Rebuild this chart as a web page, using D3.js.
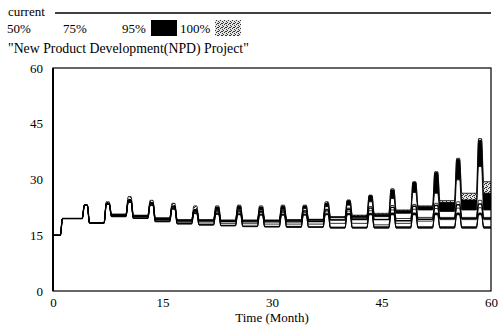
<!DOCTYPE html>
<html>
  <head>
    <meta charset="UTF-8">
    <style>
      body { margin: 0; background: #fff; }
      text { font-family: "Liberation Serif", "DejaVu Serif", serif; fill: #000; }
      .tick text { font-size: 13px; font-family: "Liberation Serif", "DejaVu Serif", serif; }
      .band-line { fill: none; stroke: #000; stroke-width: 0.8; }
      .current-line { fill: none; stroke: #000; stroke-width: 1.4; }
    </style>
    <script src="https://d3js.org/d3.v7.min.js"></script>
  </head>
  <body>
    <script>
      // sensitivity run: months of the 19 work pulses
      var peakMonths = [4.5, 7.5, 10.5, 13.5, 16.5, 19.5, 22.5, 25.5, 28.5, 31.5,
                        34.5, 37.5, 40.5, 43.5, 46.5, 49.5, 52.5, 55.5, 58.5];
      var startLevel = 15, rampFrom = 1.0, rampTo = 1.3;
      var xTicks = [0, 15, 30, 45, 60];
      var yTicks = [0, 15, 30, 45, 60];

      // plateau levels: [0] before first pulse, [k] after pulse k
      var baseCurrent = [19.5,18.3,20.4,20.0,19.3,18.8,18.8,18.7,18.6,18.6,18.6,18.7,19.1,19.2,19.2,18.9,19.3,19.5,19.5,19.5];
      var baseLo100 = [19.5,18.3,20.0,19.5,18.6,18.0,17.7,17.5,17.3,17.2,17.1,17.1,16.9,16.9,16.9,16.9,16.9,16.9,16.9,16.9];
      var baseLo95  = [19.5,18.3,20.0,19.5,18.7,18.1,17.8,17.6,17.4,17.3,17.2,17.2,17.0,17.0,17.0,17.0,17.0,17.0,17.0,17.0];
      var baseLo75  = [19.5,18.3,20.1,19.6,18.8,18.2,17.9,17.7,17.5,17.4,17.4,17.3,17.2,17.2,17.3,17.3,17.3,17.3,17.3,17.3];
      var baseLo50  = [19.5,18.3,20.2,19.8,19.0,18.5,18.3,18.2,18.1,18.0,18.0,18.0,18.2,18.2,17.8,18.2,18.8,19.2,19.2,19.2];
      var baseHi50  = [19.5,18.3,20.4,20.1,19.4,18.9,18.9,18.8,18.8,18.8,18.8,18.9,19.3,19.5,19.3,19.5,19.8,19.8,19.8,19.8];
      var baseHi75  = [19.5,18.3,20.5,20.2,19.5,19.0,19.0,18.9,18.9,18.9,19.0,19.1,19.8,19.8,20.0,20.9,21.8,21.4,21.8,21.8];
      var baseHi95  = [19.5,18.3,20.6,20.3,19.6,19.1,19.1,19.0,19.0,19.0,19.1,19.2,19.9,20.2,20.6,21.6,22.7,23.8,24.5,26.3];
      var baseHi100 = [19.5,18.3,20.7,20.4,19.7,19.2,19.2,19.1,19.1,19.1,19.2,19.3,20.0,20.4,20.9,21.8,22.9,24.3,26.3,29.4];

      // pulse tops
      var peakCurrent = [23.1,23.5,24.3,23.6,22.7,21.6,21.5,21.5,21.4,21.5,21.5,21.8,22.0,22.3,22.5,22.8,23.0,23.2,23.4];
      var peakLo100 = [23.1,23.3,23.8,23.0,22.0,20.8,20.6,20.5,20.4,20.4,20.4,20.5,20.5,20.5,20.5,20.5,20.5,20.5,20.5];
      var peakLo95  = [23.1,23.3,23.9,23.1,22.1,20.9,20.7,20.6,20.5,20.5,20.5,20.6,20.6,20.6,20.6,20.6,20.6,20.6,20.6];
      var peakLo75  = [23.1,23.4,24.0,23.2,22.3,21.1,20.9,20.8,20.7,20.7,20.7,20.8,20.9,20.9,21.0,21.0,21.0,21.0,21.0];
      var peakLo50  = [23.1,23.5,24.2,23.4,22.5,21.4,21.2,21.2,21.1,21.1,21.1,21.3,21.5,21.6,21.8,22.0,22.2,22.3,22.4];
      var peakHi50  = [23.1,23.5,24.3,23.6,22.7,21.7,21.6,21.6,21.5,21.6,21.7,22.0,22.3,22.7,23.0,23.3,23.6,24.0,24.4];
      var peakHi75  = [23.1,23.5,24.4,23.7,22.8,21.8,21.8,21.9,21.8,21.9,22.2,22.7,23.1,24.0,24.9,26.5,26.3,29.9,33.5];
      var peakHi95  = [23.1,23.7,24.6,23.8,22.9,21.9,22.6,22.8,22.6,22.8,22.9,23.6,24.3,25.6,27.2,29.2,31.8,35.3,40.5];
      var peakHi100 = [23.1,24.0,25.4,24.4,23.6,22.9,22.9,23.1,22.9,23.1,23.1,24.0,24.5,25.8,27.5,29.4,32.1,35.7,41.0];

      var width = 499, height = 327;
      var m = { left: 53, right: 491, top: 68, bottom: 291 };
      var pulse = [-0.5, -0.2, 0.2, 0.5];

      var x = d3.scaleLinear().domain([0, 60]).range([m.left, m.right]);
      var y = d3.scaleLinear().domain([0, 60]).range([m.bottom, m.top]);

      function series(base, peak) {
        var pts = [[0, startLevel], [rampFrom, startLevel], [rampTo, base[0]]];
        peakMonths.forEach(function(t, i) {
          pts.push([t + pulse[0], base[i]], [t + pulse[1], peak[i]],
                   [t + pulse[2], peak[i]], [t + pulse[3], base[i + 1]]);
        });
        pts.push([60, base[base.length - 1]]);
        return pts;
      }

      var svg = d3.select("body").append("svg")
        .attr("width", width)
        .attr("height", height);

      var defs = svg.append("defs");
      var pat = defs.append("pattern")
        .attr("id", "stipple")
        .attr("width", 4).attr("height", 4)
        .attr("patternUnits", "userSpaceOnUse");
      pat.append("rect").attr("width", 4).attr("height", 4).attr("fill", "#e4e4e4");
      [[0, 0], [2, 1], [1, 3], [3, 2], [2, 3]].forEach(function(p) {
        pat.append("rect").attr("x", p[0]).attr("y", p[1])
          .attr("width", 1).attr("height", 1).attr("fill", "#333");
      });

      var line = d3.line()
        .x(function(d) { return x(d[0]); })
        .y(function(d) { return y(d[1]); })
        .curve(d3.curveMonotoneX);

      var area = d3.area()
        .x(function(d) { return x(d[0]); })
        .y0(function(d) { return y(d[1]); })
        .y1(function(d) { return y(d[2]); })
        .curve(d3.curveMonotoneX);

      var bands = [
        { lo: series(baseLo100, peakLo100), hi: series(baseHi100, peakHi100), fill: "url(#stipple)" },
        { lo: series(baseLo95, peakLo95), hi: series(baseHi95, peakHi95), fill: "#000" },
        { lo: series(baseLo75, peakLo75), hi: series(baseHi75, peakHi75), fill: "#fff" },
        { lo: series(baseLo50, peakLo50), hi: series(baseHi50, peakHi50), fill: "#fff" }
      ];

      var plot = svg.append("g");
      bands.forEach(function(b) {
        var rows = b.lo.map(function(p, i) { return [p[0], p[1], b.hi[i][1]]; });
        plot.append("path").attr("d", area(rows)).attr("fill", b.fill);
      });
      bands.forEach(function(b) {
        plot.append("path").attr("class", "band-line").attr("d", line(b.lo));
        plot.append("path").attr("class", "band-line").attr("d", line(b.hi));
      });
      plot.append("path").attr("class", "current-line")
        .attr("d", line(series(baseCurrent, peakCurrent)));

      // frame
      svg.append("rect")
        .attr("x", m.left).attr("y", m.top)
        .attr("width", m.right - m.left).attr("height", m.bottom - m.top)
        .attr("fill", "none").attr("stroke", "#000").attr("stroke-width", 1.2);
      svg.append("line")
        .attr("x1", m.left).attr("x2", m.left).attr("y1", m.top).attr("y2", m.bottom)
        .attr("stroke", "#000").attr("stroke-width", 2);

      svg.append("g")
        .attr("transform", "translate(" + m.left + ",0)")
        .call(d3.axisLeft(y).tickValues(yTicks).tickSize(0).tickPadding(10))
        .call(function(g) { g.select(".domain").remove(); });

      svg.append("g")
        .attr("transform", "translate(0," + m.bottom + ")")
        .call(d3.axisBottom(x).tickValues(xTicks).tickSize(0).tickPadding(7))
        .call(function(g) { g.select(".domain").remove(); });

      svg.append("text")
        .attr("x", (m.left + m.right) / 2).attr("y", 322)
        .attr("text-anchor", "middle").attr("font-size", 13)
        .text("Time (Month)");

      // legend
      svg.append("text").attr("x", 8).attr("y", 16).attr("font-size", 13).text("current");
      svg.append("line")
        .attr("x1", 55).attr("x2", 491).attr("y1", 13).attr("y2", 13)
        .attr("stroke", "#000").attr("stroke-width", 1.3);

      var legend = [
        { label: "50%", x: 7, swatch: null },
        { label: "75%", x: 63, swatch: null },
        { label: "95%", x: 122, swatch: "#000", sx: 151 },
        { label: "100%", x: 180, swatch: "url(#stipple)", sx: 215 }
      ];
      legend.forEach(function(d) {
        svg.append("text").attr("x", d.x).attr("y", 33).attr("font-size", 13).text(d.label);
        if (d.swatch) {
          svg.append("rect")
            .attr("x", d.sx).attr("y", 20).attr("width", 26).attr("height", 16)
            .attr("fill", d.swatch);
        }
      });

      svg.append("text").attr("x", 8).attr("y", 53).attr("font-size", 13.8)
        .text("\"New Product Development(NPD) Project\"");
    </script>
  </body>
</html>
